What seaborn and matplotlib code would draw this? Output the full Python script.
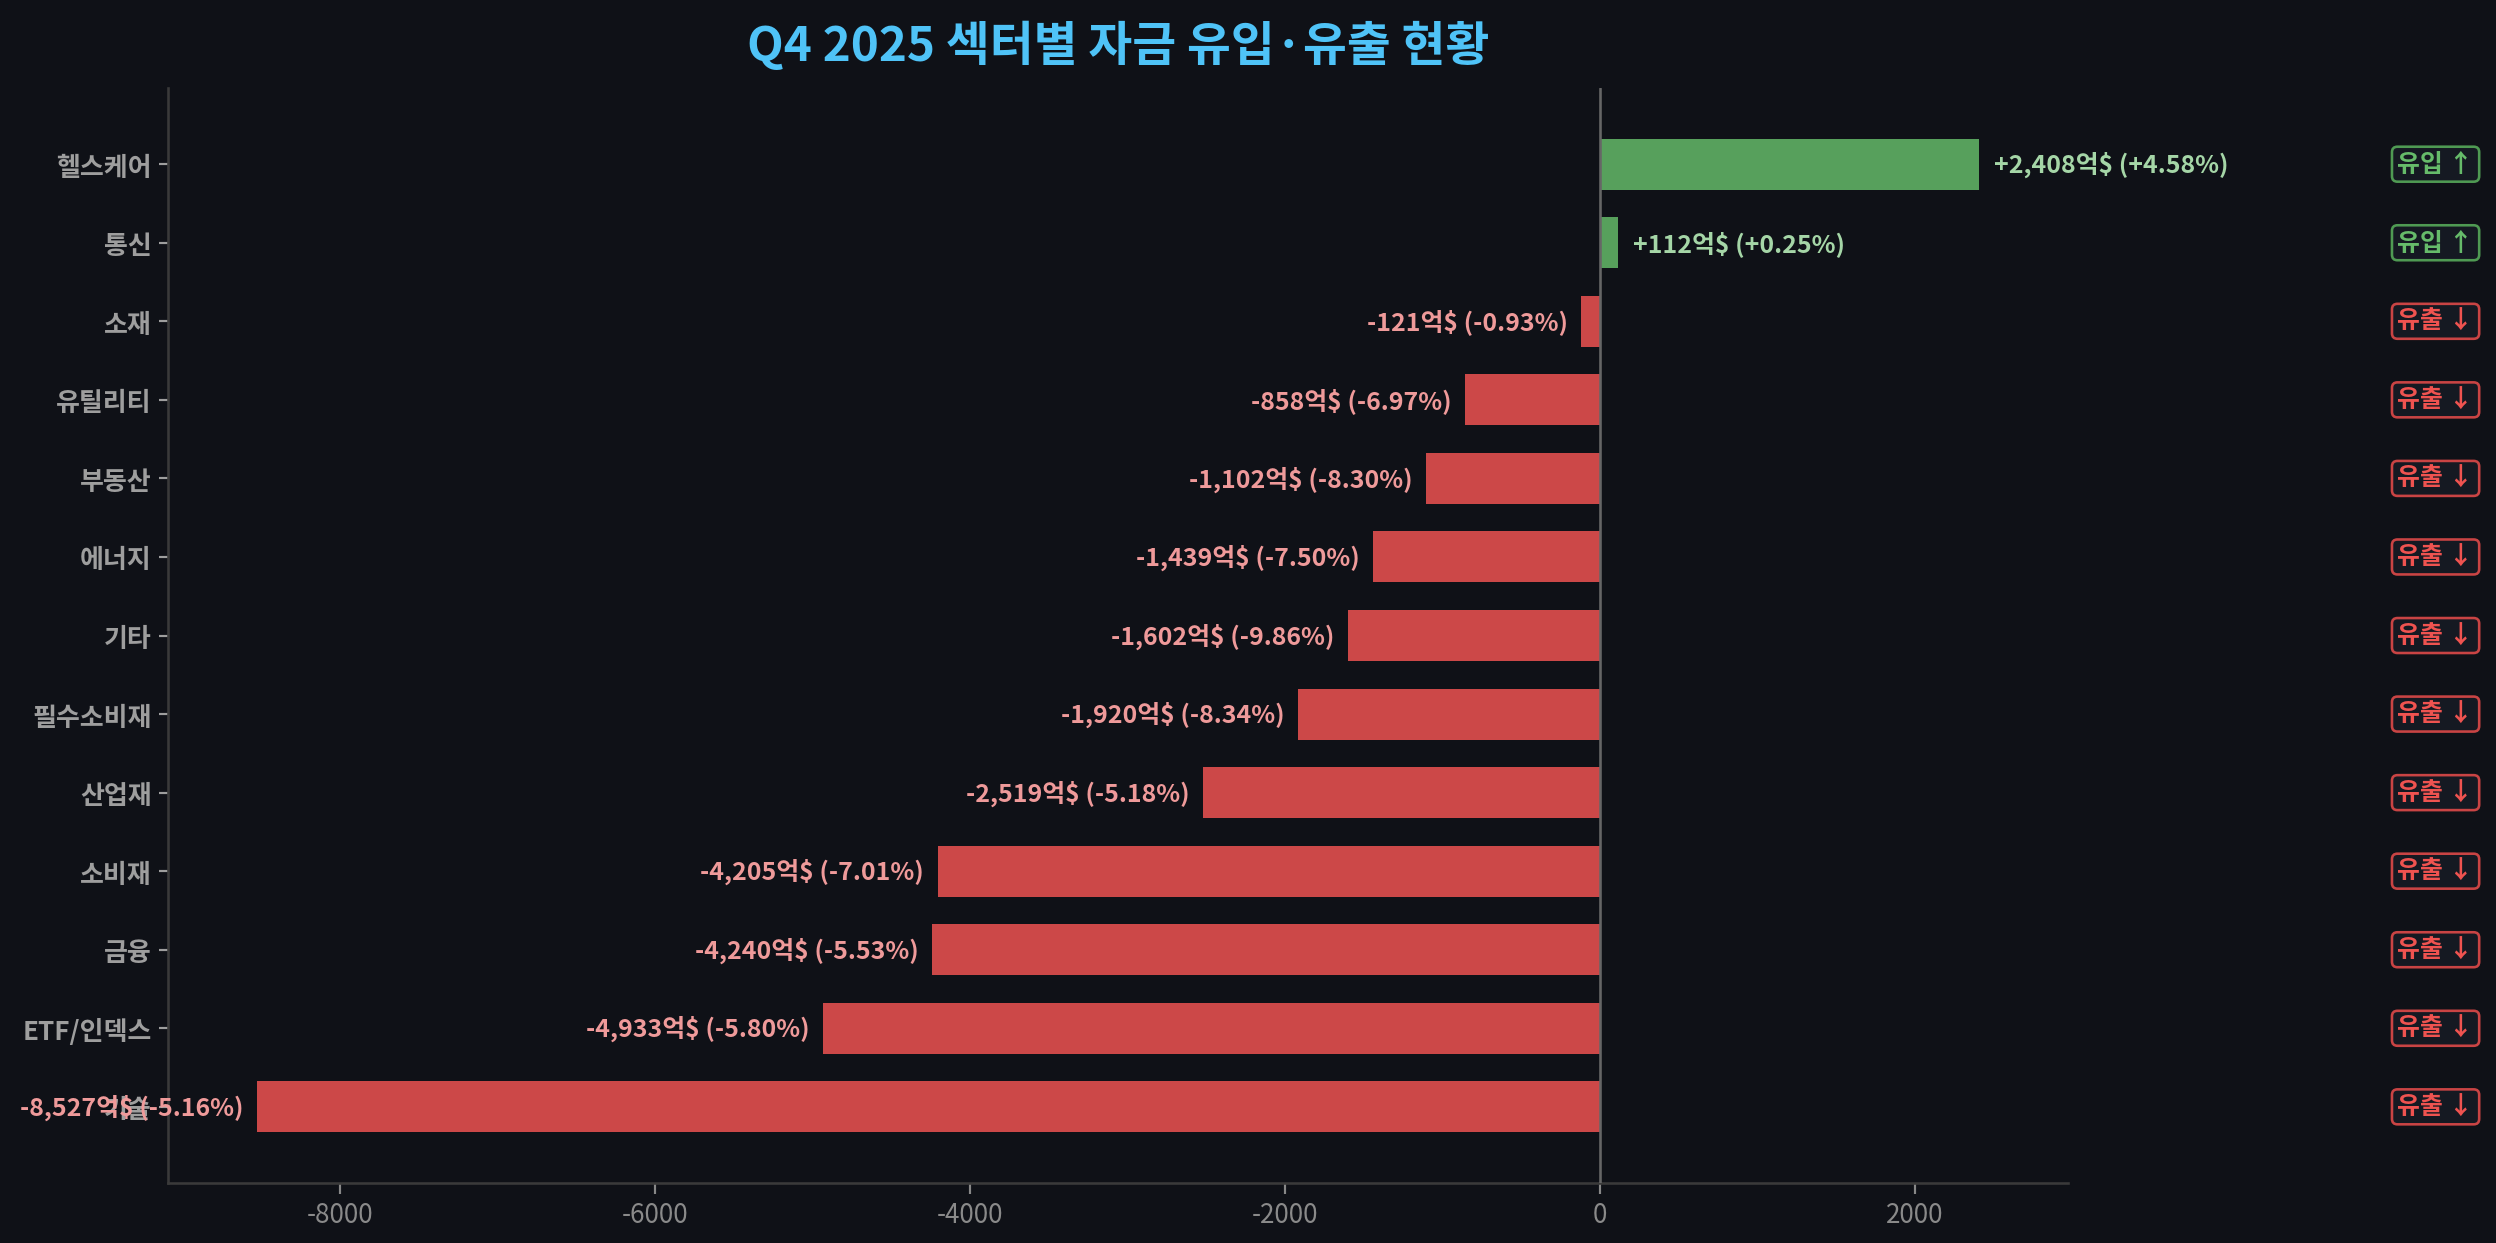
import matplotlib
matplotlib.use("Agg")
import matplotlib.pyplot as plt
import matplotlib.transforms as mtransforms
import pandas as pd
import seaborn as sns

# data
sectors = ["헬스케어", "통신", "소재", "유틸리티", "부동산", "에너지", "기타",
           "필수소비재", "산업재", "소비재", "금융", "ETF/인덱스", "기술"]
flows = [2408, 112, -121, -858, -1102, -1439, -1602, -1920, -2519, -4205, -4240, -4933, -8527]
pcts = [4.58, 0.25, -0.93, -6.97, -8.30, -7.50, -9.86, -8.34, -5.18, -7.01, -5.53, -5.80, -5.16]

BG = "#0f1117"
GREEN = "#57a05c"
RED = "#cc4848"

sns.set_theme(style="dark")
plt.rcParams["font.family"] = ["Noto Sans CJK KR", "DejaVu Sans"]
plt.rcParams["axes.unicode_minus"] = False

df = pd.DataFrame({"sector": sectors, "flow": flows, "pct": pcts})
df["dir"] = ["in" if v >= 0 else "out" for v in df["flow"]]

fig = plt.figure(figsize=(16, 7.974), dpi=156, facecolor=BG)
ax = fig.add_axes([0.0673, 0.0482, 0.7612, 0.8803])
ax.set_facecolor(BG)

sns.barplot(data=df, x="flow", y="sector", hue="dir", palette={"in": GREEN, "out": RED},
            dodge=False, width=0.65, legend=False, ax=ax, orient="h", saturation=1,
            linewidth=0, edgecolor="none")

ax.axvline(0, color="#666666", lw=1.2, zorder=3)

# value labels
for i, (v, p) in enumerate(zip(flows, pcts)):
    txt = f"{v:+,}억$ ({p:+.2f}%)"
    if v >= 0:
        ax.text(v + 95, i, txt, ha="left", va="center", fontsize=11.5, fontweight="bold", color="#a5d6a7")
    else:
        ax.text(v - 85, i, txt, ha="right", va="center", fontsize=11.5, fontweight="bold", color="#ef9a9a")

# badges on the right
trans = mtransforms.blended_transform_factory(ax.transAxes, ax.transData)
for i, v in enumerate(flows):
    if v >= 0:
        lab, c, ec = "유입 ↑", "#66bb6a", "#4f9a53"
    else:
        lab, c, ec = "유출 ↓", "#ef5350", "#c94444"
    ax.text(1.1935, i, lab, transform=trans, ha="center", va="center", fontsize=11.5,
            fontweight="bold", color=c,
            bbox=dict(boxstyle="round,pad=0.22", fc="#151922", ec=ec, lw=1.2))

ax.set_xlim(-9090, 2970)
ax.set_ylim(12.97, -0.97)
ax.set_xlabel("")
ax.set_ylabel("")
ax.set_title("Q4 2025 섹터별 자금 유입·유출 현황", fontsize=22, fontweight="bold",
             color="#4fc3f7", pad=13)

for s in ["top", "right"]:
    ax.spines[s].set_visible(False)
for s in ["left", "bottom"]:
    ax.spines[s].set_visible(True)
    ax.spines[s].set_color("#3a3a3a")
    ax.spines[s].set_linewidth(1.2)

ax.tick_params(axis="y", colors="#9e9e9e", length=4, width=1, labelsize=12, left=True)
ax.tick_params(axis="x", colors="#888888", length=5, width=1, labelsize=12, bottom=True)
ax.tick_params(axis="x", labelcolor="#8a8a8a")
for t in ax.get_yticklabels():
    t.set_fontweight("bold")
    t.set_color("#9e9e9e")
ax.grid(False)

fig.savefig("out.png", dpi=156, facecolor=BG)
